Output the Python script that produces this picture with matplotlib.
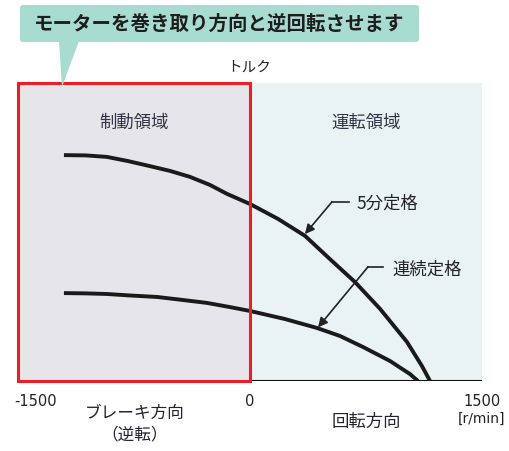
import matplotlib
matplotlib.use("Agg")
import matplotlib.pyplot as plt
from matplotlib.patches import Rectangle, FancyBboxPatch, Polygon

plt.rcParams['font.family'] = ['Noto Sans CJK JP', 'DejaVu Sans']

W, H = 510, 452

# speed [r/min] vs torque [% of axis height]
speed_5min = [-1203, -1060, -925, -789, -647, -517, -388, -259, -149, 0,
              181, 356, 517, 679, 841, 1015, 1112, 1164]
torque_5min = [75.8, 75.7, 75.2, 73.8, 72.1, 70.5, 68.5, 65.8, 62.8, 59.4,
               54.4, 48.7, 40.9, 33.2, 24.2, 13.1, 5.0, 0]
speed_cont = [-1203, -1060, -925, -776, -601, -453, -278, -129, 0,
              226, 433, 582, 731, 906, 1035, 1086]
torque_cont = [29.5, 29.4, 29.2, 28.7, 28.2, 27.3, 26.2, 24.8, 23.5,
               20.8, 17.8, 15.1, 11.4, 6.7, 2.3, 0]

tick_vals = [-1500, 0, 1500]
tick_labels = ['-1500', '0', '1500']


def fx(px):
    return px / W


def fy(py):
    return 1 - py / H


fig = plt.figure(figsize=(W / 100, H / 100), dpi=100)
fig.patch.set_facecolor('white')

ax = fig.add_axes([fx(18), fy(382), fx(482) - fx(18), fy(84) - fy(382)])
ax.set_xlim(-1500, 1500)
ax.set_ylim(0, 100)
ax.axis('off')

# regions
ax.add_patch(Rectangle((0, 0), 1500, 100, facecolor='#e9f3f4', edgecolor='none', zorder=0))
ax.add_patch(Rectangle((-1500, 0), 1500, 100, facecolor='#e6e6ea', edgecolor='none', zorder=0))
ax.plot([0, 1500], [0, 0], color='#111111', lw=1.5, zorder=2, solid_capstyle='butt')

ax.plot(speed_5min, torque_5min, color='#1a1a1a', lw=2.8, zorder=3,
        solid_capstyle='butt', solid_joinstyle='round')
ax.plot(speed_cont, torque_cont, color='#1a1a1a', lw=2.8, zorder=3,
        solid_capstyle='butt', solid_joinstyle='round')

ax.add_patch(Rectangle((-1500, 0), 1500, 100, facecolor='none', edgecolor='#ee1c25',
                       lw=2.2, zorder=4, clip_on=False))

ax.text(-750, 87, '制動領域', ha='center', va='center', fontsize=12.5, color='#333344')
ax.text(750, 87, '運転領域', ha='center', va='center', fontsize=12.5, color='#333344')

# leader arrows
ax.text(690, 60, '5分定格', ha='left', va='center', fontsize=12.5, color='#222222')
ax.plot([643, 530], [60.1, 60.1], color='#222222', lw=1.2, zorder=5)
ax.annotate('', xy=(355, 49.3), xytext=(530, 60.1),
            arrowprops=dict(arrowstyle='-|>', color='#222222', lw=1.2, mutation_scale=14,
                            shrinkA=0, shrinkB=0), zorder=5)

ax.text(920, 37.6, '連続定格', ha='left', va='center', fontsize=12.5, color='#222222')
ax.plot([860, 763], [38.3, 38.3], color='#222222', lw=1.2, zorder=5)
ax.annotate('', xy=(440, 18.0), xytext=(763, 38.3),
            arrowprops=dict(arrowstyle='-|>', color='#222222', lw=1.2, mutation_scale=14,
                            shrinkA=0, shrinkB=0), zorder=5)

# tick labels
for v, lab in zip(tick_vals, tick_labels):
    x = max(v, -1385)
    ax.text(x, -6.5, lab, ha='center', va='center', fontsize=10.5, color='#222222',
            family='DejaVu Sans', clip_on=False)
ax.text(1500, -12.5, '[r/min]', ha='center', va='center', fontsize=10, color='#222222',
        family='DejaVu Sans', clip_on=False)

fig.text(fx(135), fy(413), 'ブレーキ方向', ha='center', va='center', fontsize=12, color='#222233')
fig.text(fx(135), fy(435), '（逆転）', ha='center', va='center', fontsize=12, color='#222233')
fig.text(fx(366), fy(422), '回転方向', ha='center', va='center', fontsize=12.5, color='#222233')
fig.text(fx(249), fy(68), 'トルク', ha='center', va='center', fontsize=10.5, color='#222233')

# callout
box = FancyBboxPatch((fx(20), fy(43)), fx(419) - fx(20), fy(6) - fy(43),
                     boxstyle='round,pad=0,rounding_size=0.006', transform=fig.transFigure,
                     facecolor='#a8dcd0', edgecolor='none', zorder=1)
fig.patches.append(box)
tail = Polygon([(fx(59), fy(42)), (fx(79), fy(42)), (fx(62), fy(88))], closed=True,
               transform=fig.transFigure, facecolor='#a8dcd0', edgecolor='none', zorder=6)
fig.patches.append(tail)
fig.text(fx(219), fy(24), 'モーターを巻き取り方向と逆回転させます', ha='center', va='center',
         fontsize=14, fontweight='bold', color='#1e1e1e')

fig.savefig('out.png', dpi=100, facecolor='white')
